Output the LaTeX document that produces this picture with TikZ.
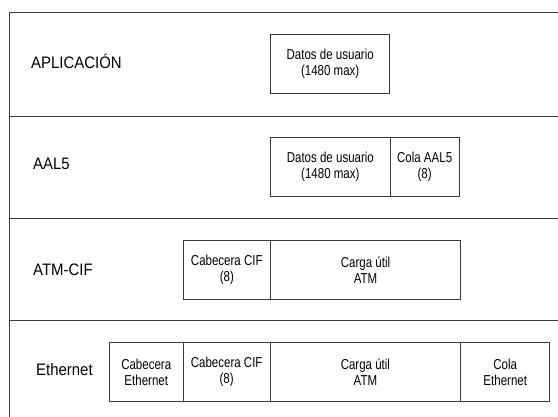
\documentclass[tikz,border=0pt]{standalone}
\usepackage{fontspec}
\setmainfont{Liberation Sans}[FakeStretch=0.9]
\newfontfamily\cellfont{Liberation Sans}[FakeStretch=0.8]
\usetikzlibrary{positioning}
\definecolor{lin}{HTML}{3A3A3A}
\tikzset{
  cell/.style={rectangle, draw=lin, line width=0.9pt, outer sep=0pt, inner sep=0pt,
               minimum height=59.5pt, align=center, font=\cellfont\fontsize{14.4}{16}\selectfont},
  layer/.style={anchor=west, inner sep=0pt, font=\fontsize{16.6}{20}\selectfont},
  rule/.style={draw=lin, line width=0.9pt}
}

\begin{document}
\begin{tikzpicture}[x=1pt, y=-1pt, node distance=0pt]
\useasboundingbox (0,0) rectangle (558,417);
% frame of the layers
\draw[rule] (558,12.5) -- (9.3,12.5) -- (9.3,417);
\draw[rule] (9.3,116) -- (558,116);
\draw[rule] (9.3,218.3) -- (558,218.3);
\draw[rule] (9.3,320.3) -- (558,320.3);
% layer names
\node[layer] (lapp) at (31,61) {APLICACIÓN};
\node[layer] (laal) at (33,164) {AAL5};
\node[layer] (latm) at (33,270) {ATM-CIF};
\node[layer] (leth) at (36,370) {Ethernet};
% APLICACION
\node[cell, minimum width=119pt, anchor=north west] (app) at (270.7,34.3) {Datos de usuario\\(1480 max)};
% AAL5
\node[cell, minimum width=119.3pt, anchor=north west] (adat) at (270.7,137) {Datos de usuario\\(1480 max)};
\node[cell, minimum width=69.3pt, right=of adat] (acola) {Cola AAL5\\(8)};
% ATM-CIF
\node[cell, minimum width=87pt, anchor=north west] (tcif) at (183.3,240) {Cabecera CIF\\(8)};
\node[cell, minimum width=190.4pt, right=of tcif] (tcarga) {Carga útil\\ATM};
% Ethernet
\node[cell, minimum width=73.9pt, anchor=north west] (ecab) at (109.3,342.3) {Cabecera\\Ethernet};
\node[cell, minimum width=87pt, right=of ecab] (ecif) {Cabecera CIF\\(8)};
\node[cell, minimum width=190.4pt, right=of ecif] (ecarga) {Carga útil\\ATM};
\node[cell, minimum width=89.3pt, right=of ecarga] (ecola) {Cola\\Ethernet};
\end{tikzpicture}
\end{document}
